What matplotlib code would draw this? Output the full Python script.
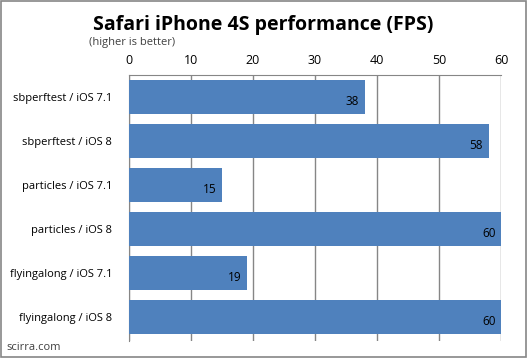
import matplotlib.pyplot as plt
from matplotlib.patches import Rectangle

# data
categories = ['sbperftest / iOS 7.1', 'sbperftest / iOS 8',
              'particles / iOS 7.1', 'particles / iOS 8',
              'flyingalong / iOS 7.1', 'flyingalong / iOS 8']
fps = [38, 58, 15, 60, 19, 60]
ticks = [0, 10, 20, 30, 40, 50, 60]

plt.rcParams['font.family'] = ['Open Sans', 'DejaVu Sans']

fig = plt.figure(figsize=(5.27, 3.58), dpi=100)
ax = fig.add_axes([129 / 527, 1 - 341 / 358, 372 / 527, 266 / 358])

ypos = list(range(len(categories)))
ax.barh(ypos, fps, height=0.78, color='#4F81BD', zorder=3)
for y, v in zip(ypos, fps):
    ax.text(v - 0.9, y + 0.1, str(v), ha='right', va='center', fontsize=8.5, color='black', zorder=4)

ax.set_xlim(0, 60)
ax.set_ylim(len(categories) - 0.45, -0.5)
ax.set_yticks(ypos)
ax.set_yticklabels(categories, fontsize=8)
ax.set_xticks(ticks)
ax.xaxis.tick_top()
ax.tick_params(axis='x', labelsize=9, length=0, pad=6)
ax.tick_params(axis='y', length=0, pad=12)
ax.grid(axis='x', color='#868686', linewidth=1, zorder=0)
for s in ['right', 'bottom']:
    ax.spines[s].set_visible(False)
ax.spines['top'].set_color('#868686')
ax.spines['left'].set_color('#868686')

fig.text(0.5, 1 - 25 / 358, 'Safari iPhone 4S performance (FPS)', ha='center', va='center',
         fontsize=14, fontweight='bold')
fig.text(89 / 527, 1 - 43 / 358, '(higher is better)', ha='left', va='center', fontsize=8, color='#404040')
fig.text(6 / 527, 1 - 347 / 358, 'scirra.com', ha='left', va='center', fontsize=8, color='#404040')

fig.patches.append(Rectangle((0.001, 0.002), 0.997, 0.995, transform=fig.transFigure,
                             fill=False, edgecolor='#868686', linewidth=1.2))

fig.savefig('out.png', dpi=100)
